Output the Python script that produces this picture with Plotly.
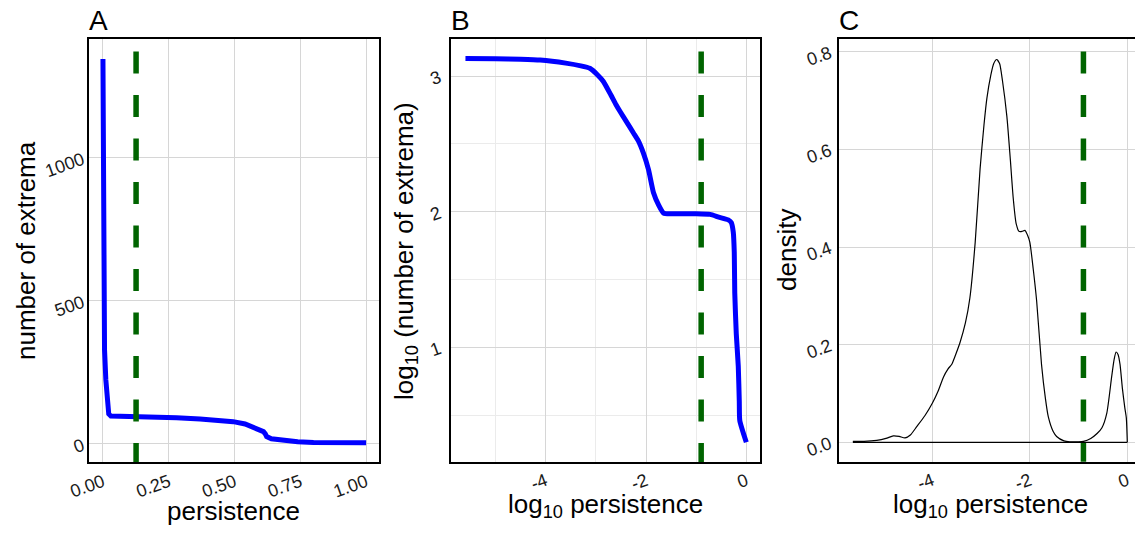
import numpy as np
import plotly.graph_objects as go

W, H = 1135, 545

# ---------------- data ----------------
# Panel A: number of extrema vs persistence
persA = [0.0, 0.001, 0.002, 0.006, 0.011, 0.017, 0.022, 0.03, 0.1, 0.179, 0.28, 0.369, 0.44, 0.495,
         0.54, 0.571, 0.595, 0.61, 0.617, 0.622, 0.64, 0.686, 0.74, 0.80, 0.9, 1.0]
countA = [1346, 1000, 503, 330, 224, 140, 105, 98, 97, 95, 92, 87, 84, 78,
          70, 60, 50, 43, 35, 26, 18, 12, 8, 5, 4, 4]

# Panel B: log10 number of extrema vs log10 persistence
logpB = [-5.6, -5.0, -4.5, -4.11, -3.6, -3.3, -3.12, -2.97, -2.85, -2.7, -2.6, -2.52, -2.4, -2.25,
         -2.15, -2.05, -1.95, -1.85, -1.75, -1.65, -1.5, -1.0, -0.72, -0.55, -0.36, -0.3, -0.26,
         -0.24, -0.23, -0.2, -0.16, -0.14, -0.13, 0.0]
logcB = [3.13, 3.128, 3.124, 3.118, 3.095, 3.075, 3.057, 3.01, 2.96, 2.86, 2.79, 2.74, 2.67, 2.58,
         2.52, 2.43, 2.31, 2.14, 2.05, 1.99, 1.985, 1.985, 1.98, 1.96, 1.94, 1.92, 1.85,
         1.70, 1.40, 1.10, 0.86, 0.60, 0.46, 0.30]

# Panel C: density of log10 persistence
logpC = [-5.63, -5.4, -5.14, -4.95, -4.80, -4.68, -4.56, -4.45, -4.32, -4.15, -4.0, -3.88, -3.77, -3.68,
         -3.60, -3.52, -3.43, -3.32, -3.23, -3.12, -3.02, -2.94, -2.88, -2.80, -2.74, -2.68, -2.62,
         -2.56, -2.47, -2.40, -2.34, -2.28, -2.22, -2.16, -2.10, -2.05, -2.0, -1.93, -1.86, -1.76,
         -1.68, -1.62, -1.52, -1.45, -1.30, -1.18, -1.0, -0.90, -0.75, -0.62, -0.52, -0.42, -0.32,
         -0.27, -0.23, -0.19, -0.15, -0.10, -0.05, -0.02, 0.0]
densC = [0.002, 0.002, 0.004, 0.008, 0.013, 0.012, 0.009, 0.015, 0.032, 0.055, 0.080, 0.105, 0.134, 0.150,
         0.160, 0.180, 0.205, 0.245, 0.295, 0.410, 0.560, 0.650, 0.705, 0.752, 0.776, 0.784, 0.776,
         0.740, 0.667, 0.580, 0.500, 0.448, 0.432, 0.432, 0.434, 0.425, 0.410, 0.355, 0.290, 0.160,
         0.090, 0.052, 0.022, 0.012, 0.003, 0.001, 0.001, 0.002, 0.008, 0.018, 0.030, 0.060, 0.135,
         0.170, 0.185, 0.180, 0.160, 0.110, 0.070, 0.050, 0.0]

threshold_log = -0.9  # log10 persistence threshold

# ---------------- layout constants ----------------
FONT = "Liberation Sans, Arial, sans-serif"
BLUE = "#0000ff"
GREEN = "#006400"
GRID = "#d6d6d6"
MINOR = "#ebebeb"
TICKFONT = dict(family=FONT, size=18, color="#1a1a1a")

panels = {
    "A": dict(xpx=(89, 379), ypx=(39, 462), xr=[-0.053, 1.049], yr=[-63, 1416]),
    "B": dict(xpx=(450.7, 760), ypx=(39, 462), xr=[-5.894, 0.273], yr=[0.155, 3.273]),
    "C": dict(xpx=(839.3, 1135), ypx=(39.3, 461.7), xr=[-5.908, 0.158], yr=[-0.0397, 0.8254]),
}

def dom_x(p):
    return [p["xpx"][0] / W, min(p["xpx"][1] / W, 1.0)]

def dom_y(p):
    return [1 - p["ypx"][1] / H, 1 - p["ypx"][0] / H]

fig = go.Figure()

# Panel A
fig.add_trace(go.Scatter(x=persA, y=countA, mode="lines", line=dict(color=BLUE, width=5),
                         xaxis="x", yaxis="y", showlegend=False, hoverinfo="skip"))
# Panel B
fig.add_trace(go.Scatter(x=logpB, y=logcB, mode="lines", line=dict(color=BLUE, width=5, shape="spline", smoothing=0.5),
                         xaxis="x2", yaxis="y2", showlegend=False, hoverinfo="skip"))
# Panel C (density outline + baseline)
fig.add_trace(go.Scatter(x=logpC, y=densC, mode="lines", line=dict(color="black", width=1.2, shape="spline", smoothing=0.6),
                         xaxis="x3", yaxis="y3", showlegend=False, hoverinfo="skip"))
fig.add_trace(go.Scatter(x=[logpC[0], logpC[-1]], y=[0, 0], mode="lines", line=dict(color="black", width=1.2),
                         xaxis="x3", yaxis="y3", showlegend=False, hoverinfo="skip"))

# dashed threshold lines (drawn as clipped traces so the dash pattern phase matches)
thr = {"A": 10 ** threshold_log, "B": threshold_log, "C": threshold_log}
axmap = {"A": ("x", "y"), "B": ("x2", "y2"), "C": ("x3", "y3")}
for k, p in panels.items():
    ph = p["ypx"][1] - p["ypx"][0]
    per_px = (p["yr"][1] - p["yr"][0]) / ph
    ytop = p["yr"][1] + (p["ypx"][0] - 8) * per_px
    ybot = p["yr"][0] - 40 * per_px
    xa, ya = axmap[k]
    fig.add_trace(go.Scatter(x=[thr[k], thr[k]], y=[ytop, ybot], mode="lines",
                             line=dict(color=GREEN, width=5.5, dash="22px,21.5px"),
                             xaxis=xa, yaxis=ya, showlegend=False, hoverinfo="skip"))

common = dict(showgrid=True, gridcolor=GRID, gridwidth=1.4, zeroline=False, automargin=False,
              showline=True, linecolor="black", linewidth=1.5, ticks="",
              tickfont=TICKFONT, tickangle=-20, fixedrange=True)

pA, pB, pC = panels["A"], panels["B"], panels["C"]
fig.update_layout(
    width=W, height=H, margin=dict(l=0, r=0, t=0, b=0, autoexpand=False),
    paper_bgcolor="white", plot_bgcolor="white",
    xaxis=dict(domain=dom_x(pA), range=pA["xr"], anchor="y", mirror=True,
               tickvals=[0, 0.25, 0.5, 0.75, 1.0], ticktext=["0.00", "0.25", "0.50", "0.75", "1.00"],
               ticklabelstandoff=1, **common),
    yaxis=dict(domain=dom_y(pA), range=pA["yr"], anchor="x", mirror=True,
               tickvals=[0, 500, 1000], ticktext=["0", "500", "1000"], ticklabelstandoff=1, **common),
    xaxis2=dict(domain=dom_x(pB), range=pB["xr"], anchor="y2", mirror=True,
                tickvals=[-4, -2, 0], ticktext=["-4", "-2", "0"], ticklabelstandoff=0,
                minor=dict(tickvals=[-5, -3, -1], showgrid=True, gridcolor=MINOR, gridwidth=1), **common),
    yaxis2=dict(domain=dom_y(pB), range=pB["yr"], anchor="x2", mirror=True,
                tickvals=[1, 2, 3], ticktext=["1", "2", "3"], ticklabelstandoff=6,
                minor=dict(tickvals=[0.5, 1.5, 2.5], showgrid=True, gridcolor=MINOR, gridwidth=1), **common),
    xaxis3=dict(domain=dom_x(pC), range=pC["xr"], anchor="y3", mirror=True,
                tickvals=[-4, -2, 0], ticktext=["-4", "-2", "0"], ticklabelstandoff=0, **common),
    yaxis3=dict(domain=dom_y(pC), range=pC["yr"], anchor="x3", mirror=False,
                tickvals=[0, 0.2, 0.4, 0.6, 0.8], ticktext=["0.0", "0.2", "0.4", "0.6", "0.8"],
                ticklabelstandoff=4, **common),
)

def ann(text, xpx, ypx, size=25, angle=0, xanchor="center"):
    fig.add_annotation(text=text, x=xpx / W, y=1 - ypx / H, xref="paper", yref="paper",
                       showarrow=False, textangle=angle, xanchor=xanchor, yanchor="middle",
                       font=dict(family=FONT, size=size, color="black"))

# panel labels
ann("A", 87, 21, size=28, xanchor="left")
ann("B", 449, 21, size=28, xanchor="left")
ann("C", 837, 21, size=28, xanchor="left")
# axis titles
ann("persistence", 234, 511, size=26)
ann("number of extrema", 26, 251, size=26, angle=-90)
ann("log<sub>10</sub> persistence", 605, 505, size=26)
ann("log<sub>10</sub> (number of extrema)", 405, 251, size=26, angle=-90)
ann("log<sub>10</sub> persistence", 990, 505, size=26)
ann("density", 787, 250, size=26, angle=-90)

fig.write_html("out.html")
